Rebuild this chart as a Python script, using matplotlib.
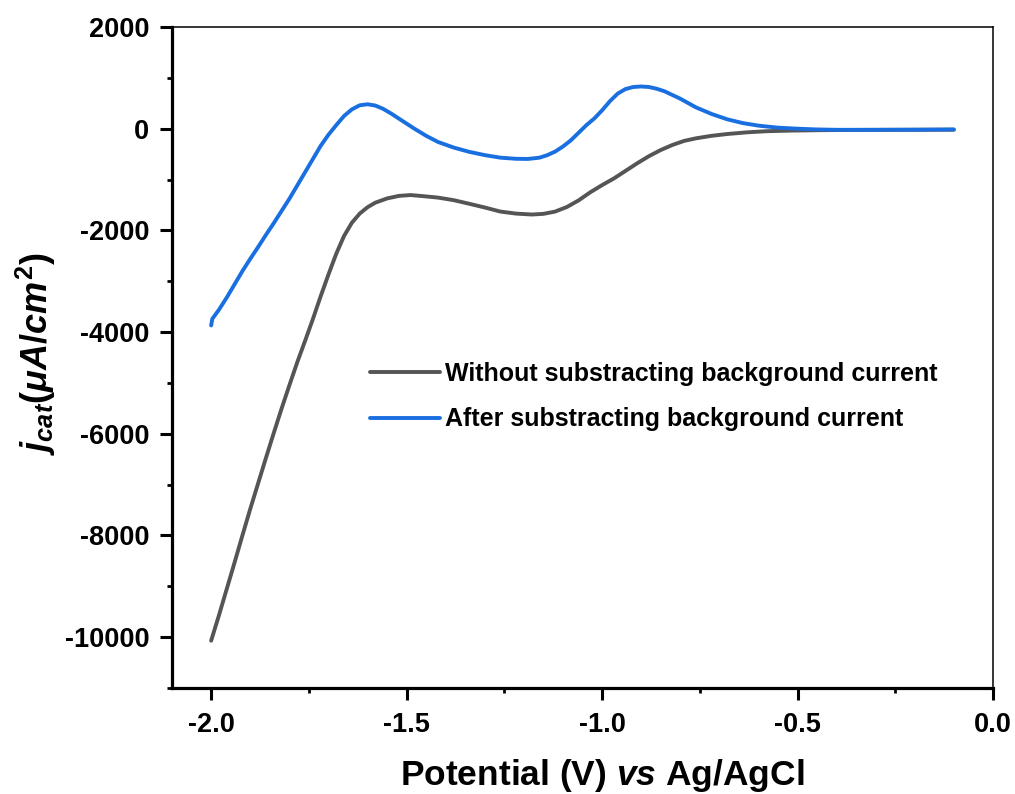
import numpy as np
import matplotlib
matplotlib.use('Agg')
import matplotlib.pyplot as plt
from matplotlib.ticker import MultipleLocator

plt.rcParams['font.family'] = ['Liberation Sans', 'DejaVu Sans']
plt.rcParams['font.weight'] = 'bold'
plt.rcParams['axes.unicode_minus'] = False
plt.rcParams['mathtext.fontset'] = 'custom'
plt.rcParams['mathtext.it'] = 'Liberation Sans:italic:bold'
plt.rcParams['mathtext.rm'] = 'Liberation Sans:bold'
plt.rcParams['mathtext.bf'] = 'Liberation Sans:bold'

# Without background subtraction (potential V, current density uA/cm2)
v_raw = [-2.00, -1.98, -1.96, -1.94, -1.92, -1.90, -1.88, -1.86, -1.84, -1.82,
         -1.80, -1.78, -1.76, -1.74, -1.72, -1.70, -1.68, -1.66, -1.64, -1.62,
         -1.60, -1.58, -1.55, -1.52, -1.49, -1.46, -1.42, -1.38, -1.34, -1.30,
         -1.26, -1.22, -1.18, -1.15, -1.12, -1.09, -1.06, -1.03, -1.00, -0.97,
         -0.94, -0.91, -0.88, -0.85, -0.82, -0.79, -0.76, -0.72, -0.68, -0.63,
         -0.58, -0.52, -0.45, -0.37, -0.25, -0.10]
j_raw = [-10070, -9570, -9050, -8530, -8000, -7480, -6980, -6480, -5990, -5510,
         -5050, -4600, -4180, -3750, -3300, -2870, -2460, -2110, -1850, -1670,
         -1545, -1455, -1372, -1322, -1305, -1325, -1355, -1405, -1476, -1550,
         -1630, -1670, -1688, -1675, -1630, -1540, -1410, -1250, -1110, -980,
         -830, -680, -540, -420, -320, -240, -190, -140, -105, -72,
         -50, -38, -30, -25, -22, -20]

# After background subtraction
v_sub = [-2.000, -1.997, -1.98, -1.96, -1.94, -1.92, -1.90, -1.88, -1.86, -1.84,
         -1.82, -1.80, -1.78, -1.76, -1.74, -1.72, -1.70, -1.68, -1.66, -1.64,
         -1.62, -1.60, -1.58, -1.56, -1.54, -1.52, -1.50, -1.48, -1.45, -1.42,
         -1.38, -1.34, -1.30, -1.26, -1.22, -1.19, -1.16, -1.14, -1.12, -1.10,
         -1.08, -1.06, -1.04, -1.02, -1.00, -0.98, -0.96, -0.94, -0.92, -0.90,
         -0.88, -0.86, -0.84, -0.80, -0.76, -0.72, -0.68, -0.64, -0.60, -0.55,
         -0.50, -0.45, -0.40, -0.30, -0.20, -0.10]
j_sub = [-3870, -3740, -3560, -3320, -3060, -2800, -2560, -2330, -2090, -1860,
         -1620, -1380, -1120, -860, -600, -340, -120, 70, 250, 380,
         460, 480, 455, 390, 300, 200, 100, 0, -140, -260,
         -370, -455, -520, -570, -592, -595, -570, -520, -450, -350,
         -230, -80, 70, 200, 360, 540, 690, 780, 820, 830,
         820, 785, 735, 590, 420, 290, 185, 110, 60, 20,
         0, -15, -22, -22, -20, -15]

labels = ['Without substracting background current',
          'After substracting background current']

fig = plt.figure(figsize=(10.15, 7.94), dpi=100)
ax = fig.add_axes([0.1695, 0.1335, 0.8088, 0.8325])

ax.plot(v_raw, j_raw, color='#555555', lw=2.8, solid_capstyle='round',
        solid_joinstyle='round', label=labels[0])
ax.plot(v_sub, j_sub, color='#1a6fe0', lw=2.8, solid_capstyle='round',
        solid_joinstyle='round', label=labels[1])

ax.set_xlim(-2.1, 0.0)
ax.set_ylim(-11000, 2000)
ax.xaxis.set_minor_locator(MultipleLocator(0.25))
ax.yaxis.set_major_locator(MultipleLocator(2000))
ax.yaxis.set_minor_locator(MultipleLocator(1000))
ax.set_xticks([-2.0, -1.5, -1.0, -0.5, 0.0])
ax.set_xticklabels(['-2.0', '-1.5', '-1.0', '-0.5', '0.0'])

for side in ['left', 'bottom']:
    ax.spines[side].set_linewidth(2.3)
for side in ['top', 'right']:
    ax.spines[side].set_linewidth(1.1)

ax.tick_params(which='major', direction='out', length=8.5, width=2.2,
               labelsize=19.5, top=False, right=False)
ax.tick_params(which='minor', direction='out', length=3.6, width=2.0,
               top=False, right=False)
ax.tick_params(axis='y', which='major', pad=8)
ax.tick_params(axis='x', which='major', pad=9)
for lab in ax.get_xticklabels() + ax.get_yticklabels():
    lab.set_fontweight('bold')

ax.legend(loc='upper left', bbox_to_anchor=(0.241, 0.493), frameon=False,
          borderpad=0, borderaxespad=0, handlelength=2.8, handletextpad=0.22,
          labelspacing=0.85, prop={'weight': 'bold', 'size': 18})

fig.text(0.593, 0.011, r'Potential (V) $vs$ Ag/AgCl', ha='center', va='baseline',
         fontsize=25.5, fontweight='bold')
fig.text(0.035, 0.555, r'$j_{cat}(\mu A/cm^2)$', rotation=90, ha='center', va='center',
         fontsize=26)

fig.savefig('out.png', dpi=100)
